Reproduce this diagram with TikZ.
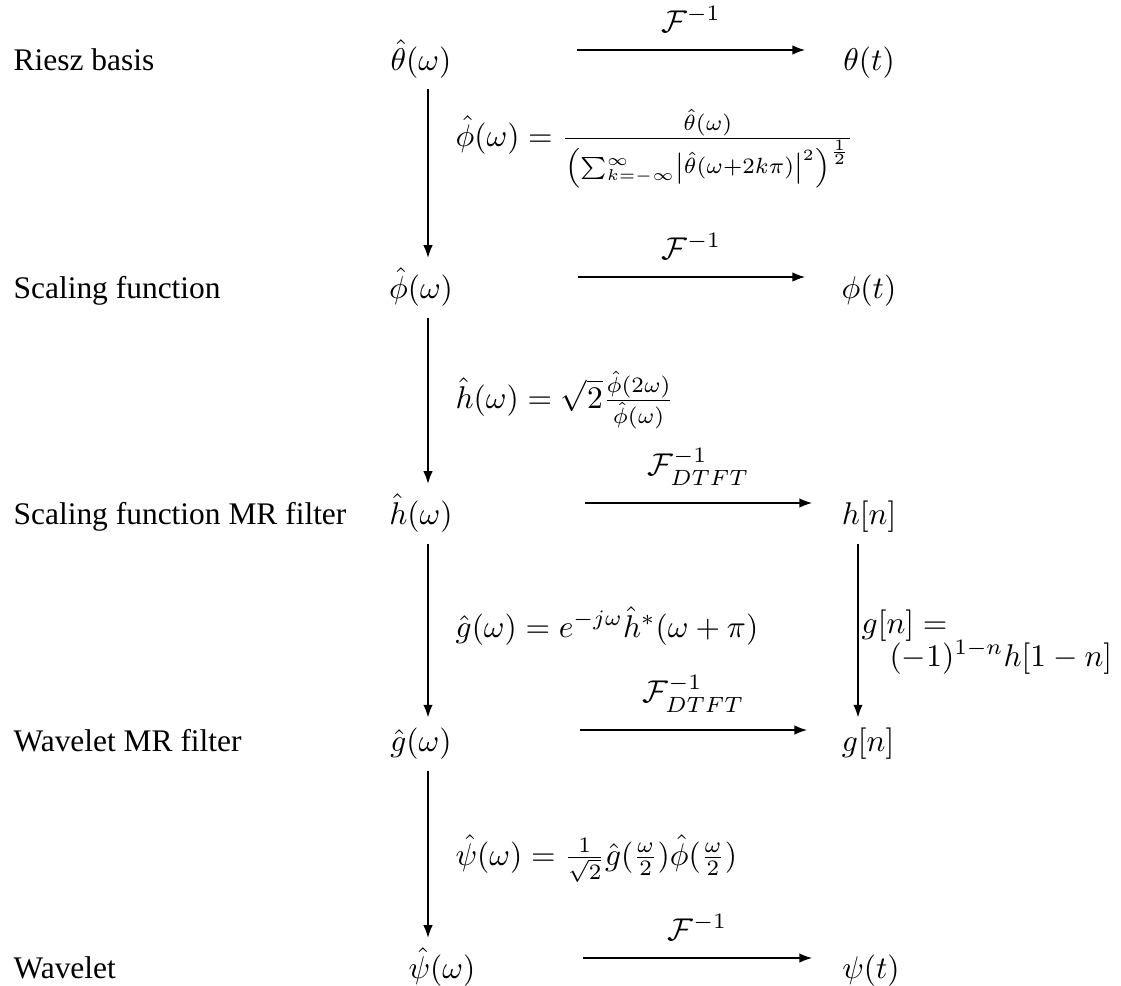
\documentclass[tikz,border=0pt]{standalone}
\usepackage[no-math]{fontspec}
\setmainfont{Liberation Serif}
\usepackage{amsmath}
\usetikzlibrary{arrows.meta}
\begin{document}
\begin{tikzpicture}[x=0.318pt,y=-0.318pt,
  lbl/.style={anchor=base west,inner sep=0pt},
  mth/.style={anchor=base,inner sep=0pt},
  frm/.style={anchor=base west,inner sep=0pt},
  arr/.style={-{Latex[length=4pt,width=3pt]},line width=0.4pt}]
\useasboundingbox (0,0) rectangle (1121,986);
% row labels
\node[lbl] (l1) at (13,70) {Riesz basis};
\node[lbl] (l2) at (13,298) {Scaling function};
\node[lbl] (l3) at (13,524) {Scaling function MR filter};
\node[lbl] (l4) at (13,751) {Wavelet MR filter};
\node[lbl] (l5) at (13,978) {Wavelet};
% left column
\node[mth] (a1) at (421,70) {$\hat{\theta}(\omega)$};
\node[mth] (a2) at (421,298) {$\hat{\phi}(\omega)$};
\node[mth] (a3) at (421,524) {$\hat{h}(\omega)$};
\node[mth] (a4) at (421,751) {$\hat{g}(\omega)$};
\node[mth] (a5) at (442,978) {$\hat{\psi}(\omega)$};
% right column
\node[mth] (b1) at (869,70) {$\theta(t)$};
\node[mth] (b2) at (869,298) {$\phi(t)$};
\node[mth] (b3) at (869,524) {$h[n]$};
\node[mth] (b4) at (868,751) {$g[n]$};
\node[mth] (b5) at (871,978) {$\psi(t)$};
% horizontal arrow ends
\coordinate (h1s) at (577,50); \coordinate (h1e) at (805,50);
\coordinate (h2s) at (578,277); \coordinate (h2e) at (805,277);
\coordinate (h3s) at (585,503); \coordinate (h3e) at (812,503);
\coordinate (h4s) at (580,730); \coordinate (h4e) at (807,730);
\coordinate (h5s) at (583,958); \coordinate (h5e) at (812,958);
\draw[arr] (h1s) -- node[above=5.5pt,inner sep=0pt] (t1) {$\mathcal{F}^{-1}$} (h1e);
\draw[arr] (h2s) -- node[above=5.5pt,inner sep=0pt] (t2) {$\mathcal{F}^{-1}$} (h2e);
\draw[arr] (h3s) -- node[above=5.5pt,inner sep=0pt] (t3) {$\mathcal{F}^{-1}_{DTFT}$} (h3e);
\draw[arr] (h4s) -- node[above=5.5pt,inner sep=0pt] (t4) {$\mathcal{F}^{-1}_{DTFT}$} (h4e);
\draw[arr] (h5s) -- node[above=5.5pt,inner sep=0pt] (t5) {$\mathcal{F}^{-1}$} (h5e);
% vertical arrows
\coordinate (cl) at (428,0);
\coordinate (cr) at (858,0);
\draw[arr] ([yshift=-3.5pt]a1.south -| cl) -- ([yshift=3pt]a2.north -| cl);
\draw[arr] ([yshift=-3.5pt]a2.south -| cl) -- ([yshift=3pt]a3.north -| cl);
\draw[arr] ([yshift=-3.5pt]a3.south -| cl) -- ([yshift=3pt]a4.north -| cl);
\draw[arr] ([yshift=-3.5pt]a4.south -| cl) -- ([yshift=3pt]a5.north -| cl);
\draw[arr] ([yshift=-3.5pt]b3.south -| cr) -- ([yshift=3pt]b4.north -| cr);
% formulas
\node[frm] (f1) at (455,146) {$\hat{\phi}(\omega)=\frac{\hat{\theta}(\omega)}{\left(\sum_{k=-\infty}^{\infty}\left|\hat{\theta}(\omega+2k\pi)\right|^{2}\right)^{\frac{1}{2}}}$};
\node[frm] (f2) at (455,408) {$\hat{h}(\omega)=\sqrt{2}\frac{\hat{\phi}(2\omega)}{\hat{\phi}(\omega)}$};
\node[frm] (f3) at (455,637) {$\hat{g}(\omega)=e^{-j\omega}\hat{h}^{*}(\omega+\pi)$};
\node[frm] (f4) at (455,865) {$\hat{\psi}(\omega)=\frac{1}{\sqrt{2}}\hat{g}(\frac{\omega}{2})\hat{\phi}(\frac{\omega}{2})$};
\node[frm] (g1) at (861,633) {$g[n]=$};
\node[frm] (g2) at (889,666) {$(-1)^{1-n}h[1-n]$};
\end{tikzpicture}
\end{document}
